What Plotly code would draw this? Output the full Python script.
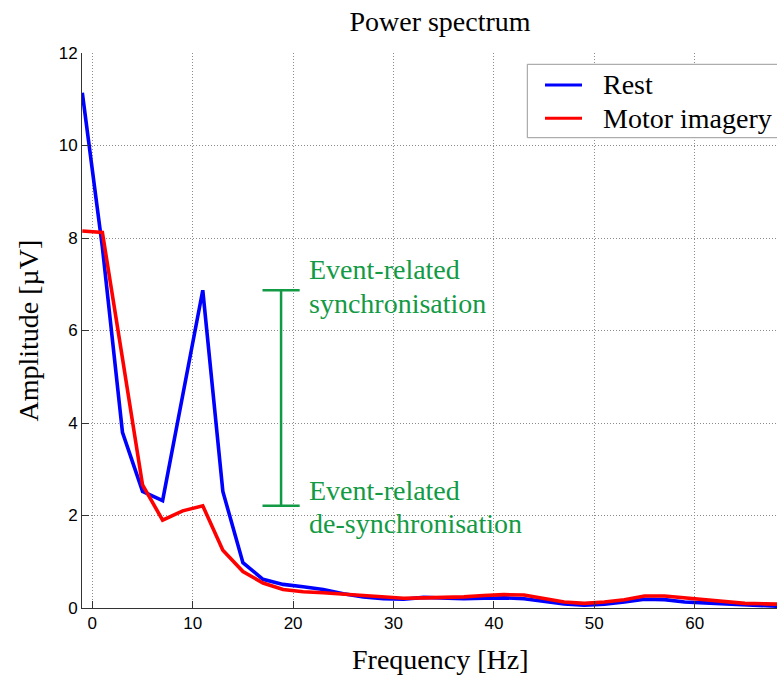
import plotly.graph_objects as go

# Spectrum samples (2 Hz bins)
freq_hz = [-1, 1, 3, 5, 7, 9, 11, 13, 15, 17, 19, 21, 23, 25, 27, 29, 31, 33, 35,
           37, 39, 41, 43, 45, 47, 49, 51, 53, 55, 57, 59, 61, 63, 65, 67, 69]
rest_uv = [11.14, 7.8, 3.8, 2.52, 2.32, 4.57, 6.87, 2.52, 0.98, 0.62, 0.51, 0.46,
           0.40, 0.31, 0.24, 0.20, 0.19, 0.23, 0.22, 0.20, 0.21, 0.22, 0.20, 0.15,
           0.09, 0.06, 0.08, 0.13, 0.19, 0.18, 0.13, 0.11, 0.09, 0.06, 0.04, 0.03]
motor_uv = [8.15, 8.12, 5.4, 2.66, 1.9, 2.1, 2.21, 1.25, 0.79, 0.54, 0.40, 0.35,
            0.33, 0.30, 0.26, 0.23, 0.21, 0.22, 0.23, 0.24, 0.27, 0.29, 0.28, 0.20,
            0.13, 0.10, 0.13, 0.18, 0.26, 0.26, 0.22, 0.17, 0.13, 0.10, 0.09, 0.08]

series_names = ["Rest", "Motor imagery"]
series_colors = ["#0000ff", "#ff0000"]

x_ticks = [0, 10, 20, 30, 40, 50, 60]
y_ticks = [0, 2, 4, 6, 8, 10, 12]

GREEN = "#129a45"
SERIF = "Liberation Serif, Times New Roman, serif"
SANS = "Liberation Sans, Arial, sans-serif"

# Plot-area geometry (pixels)
W, H = 777, 678
L, R, T, B = 82, 0, 53, 70
pw, ph = W - L - R, H - T - B

fig = go.Figure()
for name, ys, col in zip(series_names, [rest_uv, motor_uv], series_colors):
    fig.add_trace(go.Scatter(x=freq_hz, y=ys, mode="lines", name=name,
                             line=dict(color=col, width=3.6), showlegend=False))

# Bracket spanning the alpha-band difference at 11 Hz
i_alpha = freq_hz.index(11)
top, bot = rest_uv[i_alpha], motor_uv[i_alpha]
bx, cap = 18.8, 1.85
fig.add_trace(go.Scatter(
    x=[bx, bx, None, bx - cap, bx + cap, None, bx - cap, bx + cap],
    y=[top, bot, None, top, top, None, bot, bot],
    mode="lines", line=dict(color=GREEN, width=2.5), showlegend=False,
    hoverinfo="skip"))

def py_to_y(py):
    return (608 - py) / 46.25

ann = []
for txt, py in [("Event-related", 269.9), ("synchronisation", 303.9),
                ("Event-related", 490.6), ("de-synchronisation", 523.3)]:
    ann.append(dict(x=21.35, y=py_to_y(py), xref="x", yref="y", text=txt,
                    showarrow=False, xanchor="left", yanchor="middle",
                    font=dict(family=SERIF, size=28, color=GREEN)))

# Axis titles
ann.append(dict(x=(440 - L) / pw, y=-(659 - 608) / ph, xref="paper", yref="paper",
                text="Frequency [Hz]", showarrow=False, xanchor="center",
                yanchor="middle", font=dict(family=SERIF, size=28, color="black")))
ann.append(dict(x=-(L - 28) / pw, y=0.5, xref="paper", yref="paper",
                text="Amplitude [µV]", showarrow=False, textangle=-90,
                xanchor="center", yanchor="middle",
                font=dict(family=SERIF, size=28, color="black")))

# Legend box drawn by hand
def px_x(px):
    return (px - L) / pw

def px_y(py):
    return (608 - py) / ph

shapes = [dict(type="rect", xref="paper", yref="paper",
               x0=px_x(527.3), x1=1.05, y0=px_y(137.7), y1=px_y(64.3),
               line=dict(color="#999999", width=1), fillcolor="white", layer="above")]
for name, col, py in zip(series_names, series_colors, [85, 118.3]):
    shapes.append(dict(type="line", xref="paper", yref="paper",
                       x0=px_x(545), x1=px_x(582), y0=px_y(py), y1=px_y(py),
                       line=dict(color=col, width=3), layer="above"))
    ann.append(dict(x=px_x(600.7), y=px_y(py), xref="paper", yref="paper",
                    text=name, showarrow=False, xanchor="left", yanchor="middle",
                    font=dict(family=SERIF, size=28, color="black")))

axis_common = dict(showline=True, linecolor="#333333", linewidth=1,
                   ticks="inside", ticklen=7, tickcolor="#333333",
                   showgrid=True, gridcolor="#8c8c8c", griddash="1px,2px", gridwidth=1,
                   zeroline=False, tickfont=dict(family=SANS, size=17, color="black"))

fig.update_layout(
    width=W, height=H,
    margin=dict(l=L, r=R, t=T, b=B),
    paper_bgcolor="white", plot_bgcolor="white",
    title=dict(text="Power spectrum", x=440 / W, xanchor="center",
               y=1 - 21 / H, yanchor="middle", yref="container",
               font=dict(family=SERIF, size=28, color="black")),
    xaxis=dict(range=[-1.03, 68.2], tickvals=x_ticks, **axis_common),
    yaxis=dict(range=[0, 12], tickvals=y_ticks, **axis_common),
    annotations=ann, shapes=shapes, showlegend=False,
)

fig.write_html("out.html")
